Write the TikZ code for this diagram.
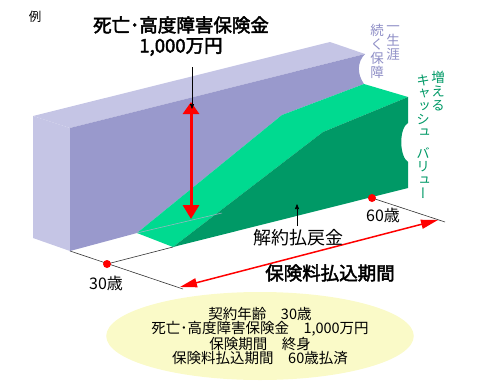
\documentclass[tikz,border=0pt]{standalone}
\usepackage{fontspec}
\setmainfont{Noto Sans CJK JP}
\newfontfamily\jpv[RawFeature=+vert]{Noto Sans CJK JP}
\newfontfamily\jpb[FakeBold=2.5]{Noto Sans CJK JP}
\usetikzlibrary{arrows.meta,shapes.geometric}
\definecolor{purFront}{HTML}{9999CC}
\definecolor{purTop}{HTML}{C5C5E5}
\definecolor{grnLight}{HTML}{00DA90}
\definecolor{grnDark}{HTML}{009966}
\definecolor{purText}{HTML}{8E8EC6}
\definecolor{ellFill}{HTML}{FAFAC8}
\begin{document}
\begin{tikzpicture}[x=1pt,y=-1pt,
  lbl/.style={inner sep=0pt, align=center},
  axisline/.style={draw=black!80, line width=0.6pt},
  reddot/.style={fill=red, draw=none},
  vtext/.style={inner sep=0pt, align=center, font=\jpv\fontsize{13.5}{14}\selectfont}]
\useasboundingbox (0,0) rectangle (500,388);
% ---- purple block ----
\coordinate (pA) at (33,116);
\coordinate (pB) at (330,42);
\coordinate (pC) at (365,54);
\coordinate (pD) at (70,128);
\coordinate (pE) at (70,251);
\coordinate (pF) at (33,238);
\fill[purTop] (pA) -- (pD) -- (pE) -- (pF) -- cycle;
\fill[purTop] (pA) -- (pB) -- (pC) -- (pD) -- cycle;
\fill[purFront] (pD) -- (pC) .. controls (357,62) and (357,74) .. (364,84) -- (282,115) -- (137,233) -- (pE) -- cycle;
% ---- green block ----
\coordinate (gA) at (137,233);
\coordinate (gB) at (282,115);
\coordinate (gC) at (364,84);
\coordinate (gD) at (408,97);
\coordinate (gE) at (323,132);
\coordinate (gF) at (173,247);
\coordinate (gG) at (408,188);
\fill[grnLight] (gA) -- (gB) -- (gC) -- (gD) -- (gE) -- (gF) -- cycle;
\fill[grnDark] (gF) -- (gE) -- (gD) -- (408,123) .. controls (399,128) and (399,156) .. (408,162) -- (gG) -- cycle;
\coordinate (gl) at (222,213);
\draw[purFront!80!black!60, line width=0.5pt] (gA) -- (gl);
% ---- floor lines ----
\coordinate (d30) at (107,264);
\coordinate (d60) at (372,198);
\coordinate (ax1) at (183,289);
\coordinate (ax2) at (445,222);
\draw[axisline] (pE) -- (ax1);
\draw[axisline] (d30) -- (gF);
\draw[axisline] (d60) -- (ax2);
\fill[reddot] (d30) circle (4);
\fill[reddot] (d60) circle (4);
% ---- red arrows ----
\coordinate (ra1) at (180,287);
\coordinate (ra2) at (438,220);
\draw[red, line width=1.5pt, {Triangle[length=17pt,width=9pt]}-{Triangle[length=17pt,width=9pt]}] (ra1) -- (ra2);
\coordinate (va1) at (191,102);
\coordinate (va2) at (191,219);
\draw[red, line width=3pt, {Triangle[length=12pt,width=16pt]}-{Triangle[length=14pt,width=16pt]}] (va1) -- (va2);
% ---- labels ----
\node[lbl, font=\fontsize{12.5}{12.5}\selectfont] (rei) at (35,17) {例};
\node[lbl, font=\jpb\fontsize{18.5}{19}\selectfont] (title) at (181,25) {死亡･高度障害保険金};
\node[lbl, font=\jpb\fontsize{18.5}{19}\selectfont] (amount) at (181,47) {1,000万円};
\coordinate (lt) at (192,67);
\coordinate (lb) at (192,109);
\draw[black, line width=0.6pt, -{Triangle[length=5pt,width=4pt]}] (lt) -- (lb);
\node[vtext, text=purText] (isshogai) at (393,43) {一\\生\\涯};
\node[vtext, text=purText] (tsuzuku) at (377,51) {続\\く\\保\\障};
\node[vtext, text=grnDark] (fueru) at (438,91) {増\\え\\る};
\node[vtext, text=grnDark, font=\jpv\fontsize{13.5}{13}\selectfont] (cash) at (423,106) {キ\\ャ\\ッ\\シ\\ュ};
\node[vtext, text=grnDark, font=\jpv\fontsize{13.5}{13.5}\selectfont] (value) at (423,173) {バ\\リ\\ュ\\ー};
\node[lbl, font=\fontsize{18}{18}\selectfont] (kaiyaku) at (298,238) {解約払戻金};
\coordinate (kt) at (297,204);
\coordinate (kb) at (297,226);
\draw[black, line width=0.6pt, -{Triangle[length=5pt,width=4pt]}] (kb) -- (kt);
\node[lbl, font=\fontsize{16}{16}\selectfont] (age60) at (383,215) {60歳};
\node[lbl, font=\fontsize{16}{16}\selectfont] (age30) at (106,283) {30歳};
\node[lbl, font=\jpb\fontsize{18.5}{19}\selectfont] (period) at (330,273) {保険料払込期間};
\node[ellipse, fill=ellFill, inner sep=0pt, minimum width=240pt, minimum height=88pt,
      align=center, font=\fontsize{14.5}{14.3}\selectfont] (info) at (260,336)
  {契約年齢　30歳\\死亡･高度障害保険金　1,000万円\\保険期間　終身\\保険料払込期間　60歳払済};
\end{tikzpicture}
\end{document}
